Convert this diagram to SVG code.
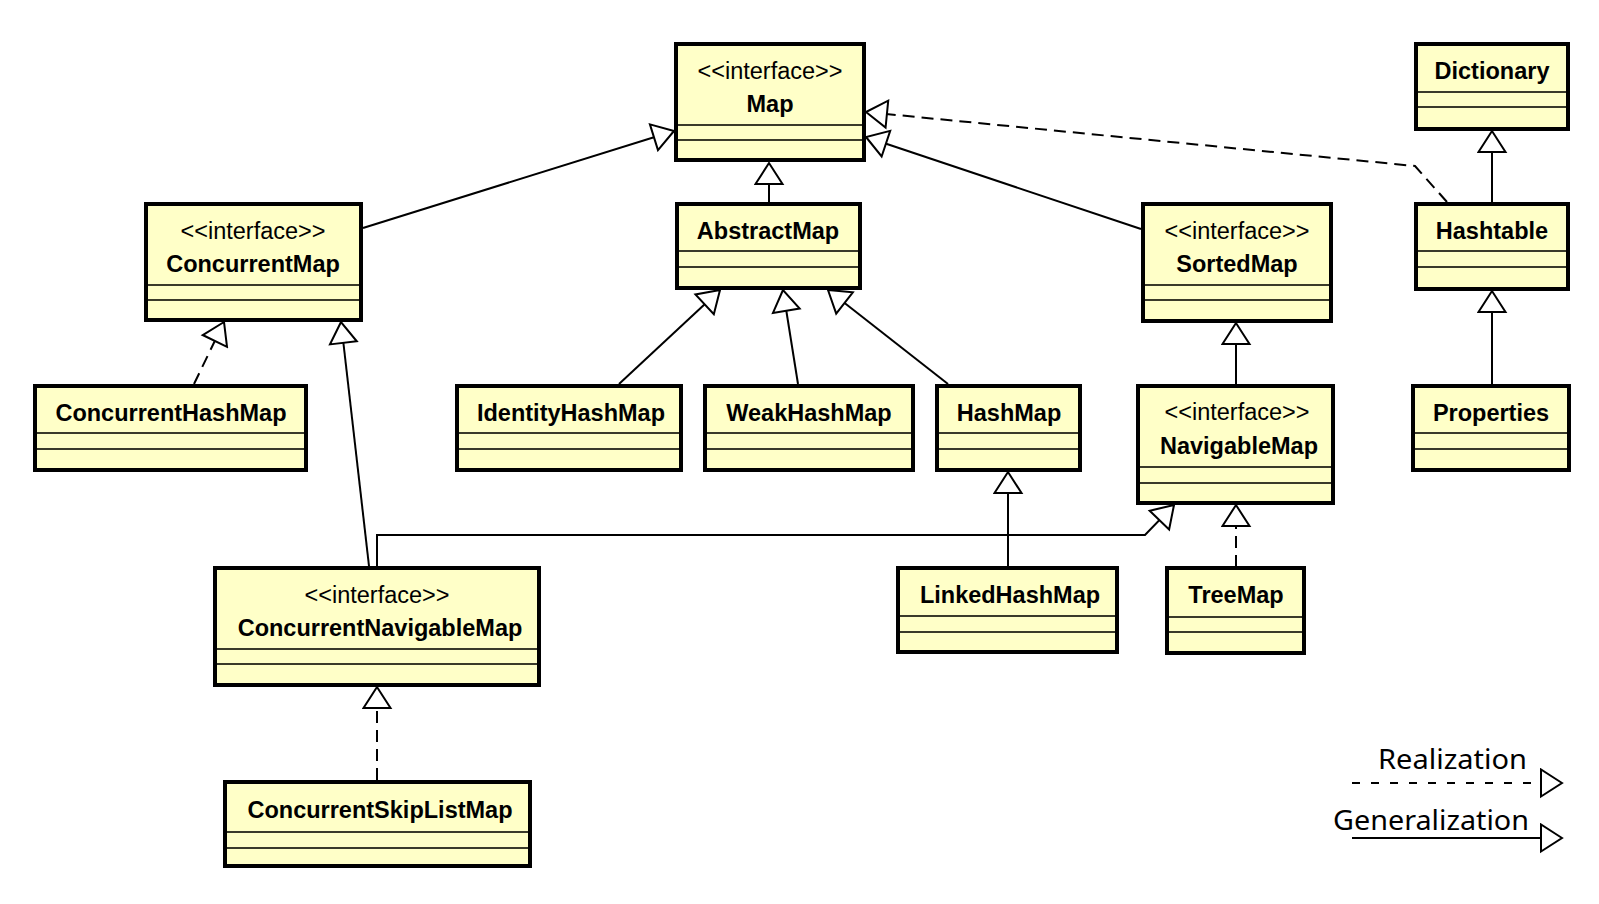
<svg xmlns="http://www.w3.org/2000/svg" width="1599" height="904" viewBox="0 0 1599 904">
<style>
.box{fill:#FFFFC8;stroke:#000;stroke-width:4}
.sep{stroke:#3a3a2a;stroke-width:2}
.st{font-family:"Liberation Sans",Arial,sans-serif;font-size:23.5px;text-anchor:middle;fill:#000}
.nm{font-family:"Liberation Sans",Arial,sans-serif;font-size:23.5px;font-weight:bold;text-anchor:middle;fill:#000}
.gen{fill:none;stroke:#000;stroke-width:2;marker-end:url(#tri)}
.real{fill:none;stroke:#000;stroke-width:2;stroke-dasharray:12,7;marker-end:url(#tri)}
.leg{font-family:"Noto Sans","Open Sans",sans-serif;font-size:27px;fill:#000}
</style>
<defs>
<marker id="tri" markerUnits="userSpaceOnUse" viewBox="-2 -2 26 31" markerWidth="26" markerHeight="31" refX="21" refY="13.5" orient="auto">
<path d="M21 13.5 L0 0 L0 27 Z" fill="#fff" stroke="#000" stroke-width="2"/>
</marker>
</defs>
<rect width="1599" height="904" fill="#fff"/>

<g id="connectors">
<path class="gen" d="M363 228 L674 131"/>
<path class="gen" d="M769 202 L769 163"/>
<path class="gen" d="M1141 229 L866 137"/>
<path class="real" d="M1447 202 L1415 166 L866 112"/>
<path class="gen" d="M1492 202 L1492 131"/>
<path class="gen" d="M1492 384 L1492 291"/>
<path class="real" d="M194 384 L224 322"/>
<path class="gen" d="M369 566 L341 322"/>
<path class="gen" d="M377 566 L377 535 L1145 535 L1174 505"/>
<path class="gen" d="M619 384 L720 290"/>
<path class="gen" d="M798 384 L783 290"/>
<path class="gen" d="M948 384 L828 290"/>
<path class="gen" d="M1008 566 L1008 472"/>
<path class="gen" d="M1236 384 L1236 323"/>
<path class="real" d="M1236 567 L1236 505"/>
<path class="real" d="M377 780 L377 687"/>
</g>

<g id="Map">
<rect class="box" x="676" y="44" width="188" height="116"/>
<line class="sep" x1="678" y1="125" x2="862" y2="125"/>
<line class="sep" x1="678" y1="140" x2="862" y2="140"/>
<text class="st" x="770" y="79">&lt;&lt;interface&gt;&gt;</text>
<text class="nm" x="770" y="112">Map</text>
</g>

<g id="ConcurrentMap">
<rect class="box" x="146" y="204" width="215" height="116"/>
<line class="sep" x1="148" y1="285" x2="359" y2="285"/>
<line class="sep" x1="148" y1="300" x2="359" y2="300"/>
<text class="st" x="253" y="239">&lt;&lt;interface&gt;&gt;</text>
<text class="nm" x="253" y="272">ConcurrentMap</text>
</g>

<g id="AbstractMap">
<rect class="box" x="677" y="204" width="183" height="84"/>
<line class="sep" x1="679" y1="251" x2="858" y2="251"/>
<line class="sep" x1="679" y1="267" x2="858" y2="267"/>
<text class="nm" x="768" y="239">AbstractMap</text>
</g>

<g id="SortedMap">
<rect class="box" x="1143" y="204" width="188" height="117"/>
<line class="sep" x1="1145" y1="285" x2="1329" y2="285"/>
<line class="sep" x1="1145" y1="300" x2="1329" y2="300"/>
<text class="st" x="1237" y="239">&lt;&lt;interface&gt;&gt;</text>
<text class="nm" x="1237" y="272">SortedMap</text>
</g>

<g id="Dictionary">
<rect class="box" x="1416" y="44" width="152" height="85"/>
<line class="sep" x1="1418" y1="92" x2="1566" y2="92"/>
<line class="sep" x1="1418" y1="107" x2="1566" y2="107"/>
<text class="nm" x="1492" y="79">Dictionary</text>
</g>

<g id="Hashtable">
<rect class="box" x="1416" y="204" width="152" height="85"/>
<line class="sep" x1="1418" y1="251" x2="1566" y2="251"/>
<line class="sep" x1="1418" y1="267" x2="1566" y2="267"/>
<text class="nm" x="1492" y="239">Hashtable</text>
</g>

<g id="ConcurrentHashMap">
<rect class="box" x="35" y="386" width="271" height="84"/>
<line class="sep" x1="37" y1="433" x2="304" y2="433"/>
<line class="sep" x1="37" y1="449" x2="304" y2="449"/>
<text class="nm" x="171" y="421">ConcurrentHashMap</text>
</g>

<g id="IdentityHashMap">
<rect class="box" x="457" y="386" width="224" height="84"/>
<line class="sep" x1="459" y1="433" x2="679" y2="433"/>
<line class="sep" x1="459" y1="449" x2="679" y2="449"/>
<text class="nm" x="571" y="421">IdentityHashMap</text>
</g>

<g id="WeakHashMap">
<rect class="box" x="705" y="386" width="208" height="84"/>
<line class="sep" x1="707" y1="433" x2="911" y2="433"/>
<line class="sep" x1="707" y1="449" x2="911" y2="449"/>
<text class="nm" x="809" y="421">WeakHashMap</text>
</g>

<g id="HashMap">
<rect class="box" x="937" y="386" width="143" height="84"/>
<line class="sep" x1="939" y1="433" x2="1078" y2="433"/>
<line class="sep" x1="939" y1="449" x2="1078" y2="449"/>
<text class="nm" x="1009" y="421">HashMap</text>
</g>

<g id="NavigableMap">
<rect class="box" x="1138" y="386" width="195" height="117"/>
<line class="sep" x1="1140" y1="467" x2="1331" y2="467"/>
<line class="sep" x1="1140" y1="483" x2="1331" y2="483"/>
<text class="st" x="1237" y="420">&lt;&lt;interface&gt;&gt;</text>
<text class="nm" x="1239" y="454">NavigableMap</text>
</g>

<g id="Properties">
<rect class="box" x="1413" y="386" width="156" height="84"/>
<line class="sep" x1="1415" y1="433" x2="1567" y2="433"/>
<line class="sep" x1="1415" y1="449" x2="1567" y2="449"/>
<text class="nm" x="1491" y="421">Properties</text>
</g>

<g id="ConcurrentNavigableMap">
<rect class="box" x="215" y="568" width="324" height="117"/>
<line class="sep" x1="217" y1="649" x2="537" y2="649"/>
<line class="sep" x1="217" y1="664" x2="537" y2="664"/>
<text class="st" x="377" y="603">&lt;&lt;interface&gt;&gt;</text>
<text class="nm" x="380" y="636">ConcurrentNavigableMap</text>
</g>

<g id="ConcurrentSkipListMap">
<rect class="box" x="225" y="782" width="305" height="84"/>
<line class="sep" x1="227" y1="832" x2="528" y2="832"/>
<line class="sep" x1="227" y1="848" x2="528" y2="848"/>
<text class="nm" x="380" y="818">ConcurrentSkipListMap</text>
</g>

<g id="LinkedHashMap">
<rect class="box" x="898" y="568" width="219" height="84"/>
<line class="sep" x1="900" y1="616" x2="1115" y2="616"/>
<line class="sep" x1="900" y1="632" x2="1115" y2="632"/>
<text class="nm" x="1010" y="603">LinkedHashMap</text>
</g>

<g id="TreeMap">
<rect class="box" x="1167" y="568" width="137" height="85"/>
<line class="sep" x1="1169" y1="617" x2="1302" y2="617"/>
<line class="sep" x1="1169" y1="632" x2="1302" y2="632"/>
<text class="nm" x="1236" y="603">TreeMap</text>
</g>

<g id="legend">
<text class="leg" x="1378" y="769" textLength="149" lengthAdjust="spacingAndGlyphs">Realization</text>
<path d="M1352 783 L1562 783" fill="none" stroke="#000" stroke-width="2" stroke-dasharray="8,11" marker-end="url(#tri)"/>
<text class="leg" x="1333" y="830" textLength="196" lengthAdjust="spacingAndGlyphs">Generalization</text>
<path d="M1352 838 L1562 838" fill="none" stroke="#000" stroke-width="2" marker-end="url(#tri)"/>
</g>
</svg>
